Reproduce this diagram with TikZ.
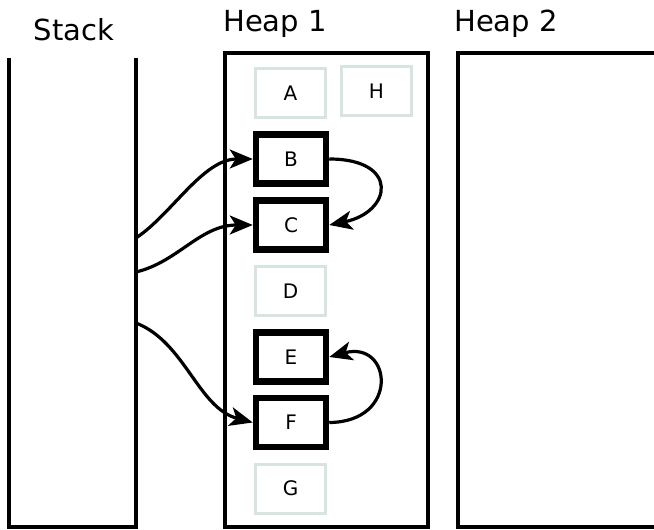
\documentclass[tikz,border=0pt]{standalone}
\usepackage{fontspec}
\setmainfont{DejaVu Sans}
\usetikzlibrary{arrows.meta}
\definecolor{freegray}{RGB}{214,228,226}
\tikzset{
  title/.style={font=\fontsize{29}{30}\selectfont, anchor=base, inner sep=0},
  obj/.style={minimum width=70pt, minimum height=49pt, inner sep=0,
    font=\fontsize{20}{22}\selectfont},
  live/.style={obj, draw=black, line width=6.5pt},
  dead/.style={obj, draw=freegray, line width=3pt},
  region/.style={draw=black, line width=3.2pt},
  ref/.style={draw=black, line width=3.2pt,
    -{Stealth[length=23pt, width=19pt, inset=6pt]}},
}
\begin{document}
\begin{tikzpicture}[x=1pt, y=-1pt]
  \useasboundingbox (0,0) rectangle (654,530);
  \fill[white] (0,0) rectangle (654,530);

  % memory regions
  \draw[region] (9,58) -- (9,527) -- (136,527) -- (136,58);
  \draw[region] (225,53) rectangle (428,527);
  \draw[region] (458,53) rectangle (680,527);

  \node[title] (tstack) at (74,40) {Stack};
  \node[title] (theap1) at (275,31) {Heap 1};
  \node[title] (theap2) at (506,31) {Heap 2};

  % objects on heap 1
  \node[dead] (A) at (290.5,93) {A};
  \node[dead] (H) at (376.5,91) {H};
  \node[live] (B) at (291,159) {B};
  \node[live] (C) at (291,225) {C};
  \node[dead] (D) at (290.5,291) {D};
  \node[live] (E) at (291,357) {E};
  \node[live] (F) at (291,422.5) {F};
  \node[dead] (G) at (290.5,488.5) {G};

  % roots held in stack slots
  \coordinate (s1) at (136,238);
  \coordinate (s2) at (136,272);
  \coordinate (s3) at (136,323);

  \draw[ref] (s1) .. controls (172,214) and (203,159) .. (B.west);
  \draw[ref] (s2) .. controls (178,262) and (200,225) .. (C.west);
  \draw[ref] (s3) .. controls (185,342) and (198,408) .. (F.west);
  \draw[ref] (B.east) .. controls (400,159) and (392,212) .. (C.east);
  \draw[ref] (F.east) .. controls (400,422) and (392,340) .. (E.east);
\end{tikzpicture}
\end{document}
